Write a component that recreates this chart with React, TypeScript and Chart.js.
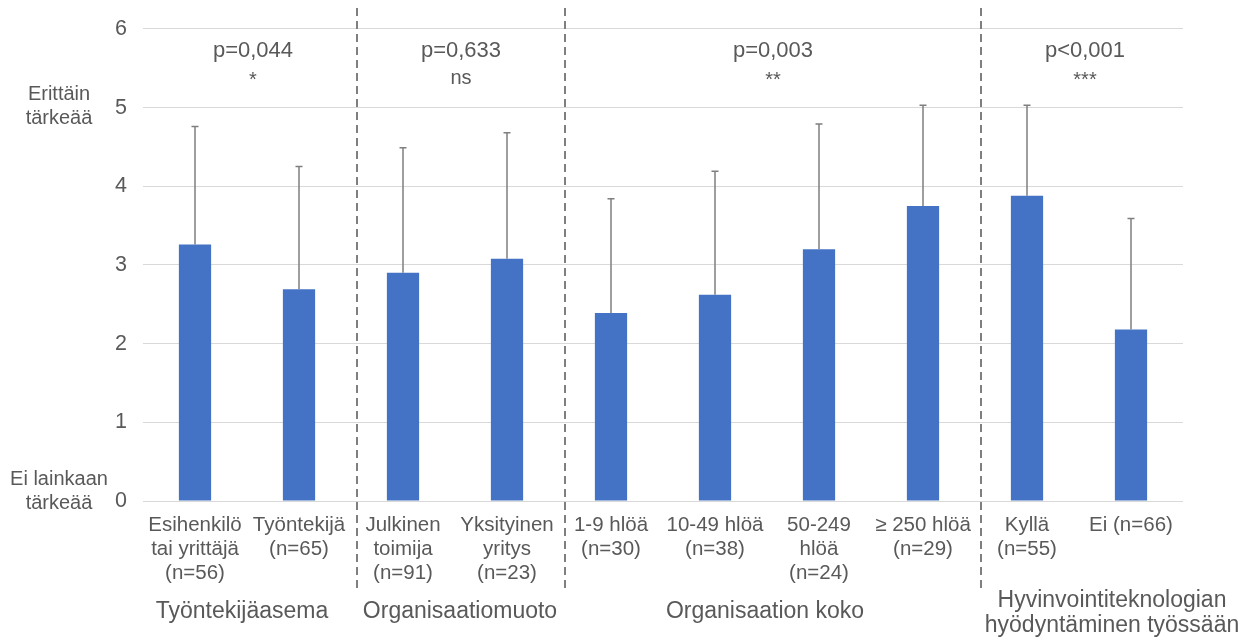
import React, { useEffect, useRef } from "react";
import { Chart, registerables } from "chart.js";

Chart.register(...registerables);

const categories: string[][] = [
  ["Esihenkilö", "tai yrittäjä", "(n=56)"],
  ["Työntekijä", "(n=65)"],
  ["Julkinen", "toimija", "(n=91)"],
  ["Yksityinen", "yritys", "(n=23)"],
  ["1-9 hlöä", "(n=30)"],
  ["10-49 hlöä", "(n=38)"],
  ["50-249", "hlöä", "(n=24)"],
  ["≥ 250 hlöä", "(n=29)"],
  ["Kyllä", "(n=55)"],
  ["Ei (n=66)"],
];

const means = [3.26, 2.69, 2.9, 3.08, 2.39, 2.62, 3.2, 3.75, 3.88, 2.18];
const upperErr = [4.76, 4.25, 4.49, 4.68, 3.84, 4.19, 4.79, 5.03, 5.03, 3.59];

const groupNames: string[][] = [
  ["Työntekijäasema"],
  ["Organisaatiomuoto"],
  ["Organisaation koko"],
  ["Hyvinvointiteknologian", "hyödyntäminen työssään"],
];
const groupSizes = [2, 2, 4, 2];
const pValues = ["p=0,044", "p=0,633", "p=0,003", "p<0,001"];
const sigMarks = ["*", "ns", "**", "***"];

const yTopLabel = ["Erittäin", "tärkeää"];
const yBottomLabel = ["Ei lainkaan", "tärkeää"];

const FONT = "'Liberation Sans', Arial, sans-serif";
const TEXT = "#595959";

const overlayPlugin = {
  id: "overlay",
  afterDatasetsDraw(chart: any) {
    const ctx = chart.ctx;
    const y = chart.scales.y;
    const meta = chart.getDatasetMeta(0);
    ctx.save();
    ctx.strokeStyle = "#7f7f7f";
    ctx.lineWidth = 1.5;
    meta.data.forEach((bar: any, i: number) => {
      const px = bar.x;
      const top = y.getPixelForValue(means[i]);
      const e = y.getPixelForValue(upperErr[i]);
      ctx.beginPath();
      ctx.moveTo(px, top);
      ctx.lineTo(px, e);
      ctx.moveTo(px - 3.5, e);
      ctx.lineTo(px + 3.5, e);
      ctx.stroke();
    });
    ctx.restore();
  },
  afterDraw(chart: any) {
    const ctx = chart.ctx;
    const x = chart.scales.x;
    ctx.save();
    ctx.strokeStyle = "#7f7f7f";
    ctx.lineWidth = 2;
    ctx.setLineDash([8, 5]);
    let idx = 0;
    const bounds: number[][] = [];
    groupSizes.forEach((s, g) => {
      const start = idx;
      const end = idx + s - 1;
      bounds.push([start, end]);
      idx += s;
      if (g < groupSizes.length - 1) {
        const sx = (x.getPixelForValue(end) + x.getPixelForValue(end + 1)) / 2 + 6;
        ctx.beginPath();
        ctx.moveTo(sx, 8);
        ctx.lineTo(sx, 592);
        ctx.stroke();
      }
    });
    ctx.setLineDash([]);
    ctx.fillStyle = TEXT;
    ctx.textAlign = "center";
    ctx.textBaseline = "middle";
    const groupOffsets = [-5, 5, -2, 33];
    bounds.forEach(([s, e], g) => {
      const cx = (x.getPixelForValue(s) + x.getPixelForValue(e)) / 2;
      ctx.font = `22px ${FONT}`;
      ctx.fillText(pValues[g], cx + 6, 51);
      ctx.font = `20px ${FONT}`;
      ctx.fillText(sigMarks[g], cx + 6, sigMarks[g] === "ns" ? 78 : 80);
      ctx.font = `23px ${FONT}`;
      const lines = groupNames[g];
      if (lines.length === 1) {
        ctx.fillText(lines[0], cx + groupOffsets[g], 612);
      } else {
        lines.forEach((l, k) => ctx.fillText(l, cx + groupOffsets[g], 601 + k * 25));
      }
    });
    ctx.font = `20px ${FONT}`;
    yTopLabel.forEach((l, k) => ctx.fillText(l, 59, 94 + k * 24));
    yBottomLabel.forEach((l, k) => ctx.fillText(l, 59, 479 + k * 24));
    ctx.restore();
  },
};

export default function App() {
  const ref = useRef<HTMLCanvasElement>(null);
  useEffect(() => {
    if (!ref.current) return;
    const chart = new Chart(ref.current, {
      type: "bar",
      data: {
        labels: categories,
        datasets: [
          {
            data: means,
            backgroundColor: "#4472C4",
            borderWidth: 0,
            categoryPercentage: 1,
            barPercentage: 0.31,
          },
        ],
      },
      options: {
        responsive: false,
        animation: false,
        layout: { padding: { top: 26, right: 70, left: 0, bottom: 0 } },
        plugins: { legend: { display: false }, tooltip: { enabled: false } },
        scales: {
          x: {
            grid: { display: false, drawTicks: false },
            border: { display: false },
            ticks: {
              color: TEXT,
              font: { family: FONT, size: 20.5, lineHeight: 1.18 },
              padding: 12,
              maxRotation: 0,
              autoSkip: false,
            },
            afterFit: (s: any) => {
              s.height = 141;
            },
          },
          y: {
            min: 0,
            max: 6,
            grid: { color: "#d9d9d9", lineWidth: 1, drawTicks: false },
            border: { display: false },
            ticks: {
              stepSize: 1,
              color: TEXT,
              font: { family: FONT, size: 21.5 },
              padding: 16,
            },
            afterFit: (s: any) => {
              s.width = 143;
            },
          },
        },
      },
      plugins: [overlayPlugin],
    });
    return () => chart.destroy();
  }, []);
  return (
    <div style={{ position: "absolute", left: 0, top: 0, width: 1253, height: 642 }}>
      <canvas ref={ref} width={1253} height={642} style={{ display: "block" }} />
    </div>
  );
}
